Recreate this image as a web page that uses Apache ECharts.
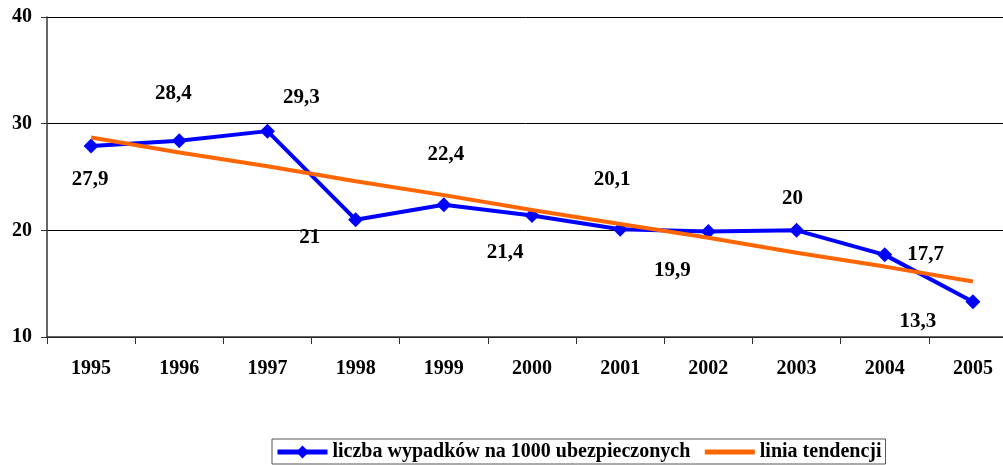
<!DOCTYPE html>
<html><head><meta charset="utf-8">
<script src="https://cdn.jsdelivr.net/npm/echarts@6/dist/echarts.min.js"></script>
<style>html,body{margin:0;padding:0;background:#fff}#c{width:1003px;height:465px}</style>
</head><body><div id="c"></div>
<script>
const categories = ['1995','1996','1997','1998','1999','2000','2001','2002','2003','2004','2005'];
const accidents = [27.9, 28.4, 29.3, 21, 22.4, 21.4, 20.1, 19.9, 20, 17.7, 13.3];
const trend = [28.7, 27.3, 26.0, 24.6, 23.3, 21.9, 20.6, 19.3, 17.9, 16.6, 15.2];
const labelTexts = ['27,9','28,4','29,3','21','22,4','21,4','20,1','19,9','20','17,7','13,3'];
const labelOffsets = [[-1,34],[-6,-47],[34,-34],[-46,18],[2,-50],[-27,37],[-8,-50],[-36,39],[-4,-32],[41,0],[-55,20]];
const yTicks = {min: 10, max: 40, interval: 10};

const font = '"Liberation Serif", "DejaVu Serif", serif';
const chart = echarts.init(document.getElementById('c'), null, {renderer: 'canvas'});
chart.setOption({
  animation: false,
  textStyle: {fontFamily: font},
  grid: {left: 47, width: 970, top: 17, bottom: 128, containLabel: false, outerBoundsMode: 'none'},
  legend: {
    bottom: 1, left: 272,
    data: [
      {name: 'liczba wypadków na 1000 ubezpieczonych', lineStyle: {width: 5}},
      {name: 'linia tendencji', lineStyle: {width: 5}, itemStyle: {color: 'rgba(0,0,0,0)', borderWidth: 0}}
    ],
    itemWidth: 50, itemHeight: 16, itemGap: 12,
    borderColor: '#555', borderWidth: 1, borderRadius: 0,
    padding: [3, 4, 2, 3],
    textStyle: {fontFamily: font, fontWeight: 'bold', fontSize: 20, color: '#000'}
  },
  xAxis: {
    type: 'category', data: categories, boundaryGap: true,
    axisLine: {lineStyle: {color: '#333', width: 1.5}},
    axisTick: {show: true, alignWithLabel: false, length: 7, lineStyle: {color: '#333'}},
    axisLabel: {fontFamily: font, fontWeight: 'bold', fontSize: 20, color: '#000', margin: 22}
  },
  yAxis: {
    type: 'value', min: yTicks.min, max: yTicks.max, interval: yTicks.interval,
    axisLine: {show: true, lineStyle: {color: '#333', width: 1.5}},
    axisTick: {show: true, length: 6, lineStyle: {color: '#333'}},
    splitLine: {lineStyle: {color: '#000', width: 1}},
    axisLabel: {fontFamily: font, fontWeight: 'bold', fontSize: 20, color: '#000', margin: 15}
  },
  series: [
    {
      name: 'liczba wypadków na 1000 ubezpieczonych', type: 'line',
      data: accidents.map((v, i) => ({
        value: v,
        label: {show: true, position: 'inside', offset: labelOffsets[i], formatter: labelTexts[i]}
      })),
      symbol: 'diamond', symbolSize: 15,
      lineStyle: {color: '#0000FF', width: 4},
      itemStyle: {color: '#0000FF'},
      label: {fontFamily: font, fontWeight: 'bold', fontSize: 21, color: '#000'},
      z: 3
    },
    {
      name: 'linia tendencji', type: 'line',
      data: trend,
      symbol: 'none',
      lineStyle: {color: '#FF6600', width: 4},
      itemStyle: {color: '#FF6600'},
      z: 4
    }
  ]
});
</script></body></html>
